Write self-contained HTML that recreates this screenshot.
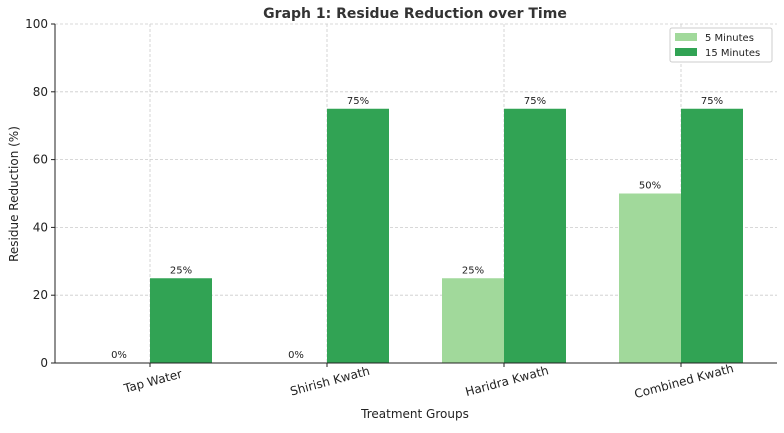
<!DOCTYPE html>
<html><head><meta charset="utf-8"><style>
body{margin:0;background:#fff;font-family:"Liberation Sans","DejaVu Sans",sans-serif}
</style></head><body>
<svg id="chart" width="784" height="428" xmlns="http://www.w3.org/2000/svg" font-family="DejaVu Sans, Liberation Sans, sans-serif">
<text x="415" y="18" text-anchor="middle" font-size="14" font-weight="bold" fill="#333">Graph 1: Residue Reduction over Time</text>
<g id="grid"></g><g id="bars"></g><g id="axes"></g>
<text x="415" y="418" text-anchor="middle" font-size="12" fill="#222">Treatment Groups</text>
<text transform="translate(18,194) rotate(-90)" text-anchor="middle" font-size="12" fill="#222">Residue Reduction (%)</text>
<g>
<rect x="670" y="28" width="102" height="34" fill="#fff" stroke="#ccc" rx="2"/>
<rect x="675" y="33" width="22" height="8" fill="#a1d99b"/>
<text x="705" y="41" font-size="10" fill="#222">5 Minutes</text>
<rect x="675" y="48" width="22" height="8" fill="#31a354"/>
<text x="705" y="56" font-size="10" fill="#222">15 Minutes</text>
</g>
</svg>
<script>
const categories=["Tap Water","Shirish Kwath","Haridra Kwath","Combined Kwath"];
const fiveMin=[0,0,25,50];
const fifteenMin=[25,75,75,75];
const yTicks=[0,20,40,60,80,100];
const NS="http://www.w3.org/2000/svg";
const L=55,R=777,T=24,B=363;
const y=v=>B-(B-T)*v/100;
const xc=i=>150+i*177;
const bw=62;
function mk(tag,attrs,parent,txt){const e=document.createElementNS(NS,tag);for(const k in attrs)e.setAttribute(k,attrs[k]);if(txt!==undefined)e.textContent=txt;document.getElementById(parent).appendChild(e);return e;}
yTicks.forEach(v=>{
 const g=mk('line',{x1:L,x2:R,y1:y(v),y2:y(v),stroke:'#ccc','stroke-dasharray':'3,2','stroke-width':0.8},'grid');
 
 
 const t=mk('line',{x1:L-4,x2:L,y1:y(v),y2:y(v),stroke:'#222'},'axes');
 
 
 const l=mk('text',{x:L-7,y:y(v)+4,'text-anchor':'end','font-size':12,fill:'#222'},'axes',v);
 
 
});
categories.forEach((c,i)=>{
 const g=mk('line',{x1:xc(i),x2:xc(i),y1:T,y2:B,stroke:'#ccc','stroke-dasharray':'3,2','stroke-width':0.8},'grid');
 
 
 [[fiveMin,'#a1d99b',-1,'5min'],[fifteenMin,'#31a354',0,'15min']].forEach(([arr,col,off,nm])=>{
  const v=arr[i],x0=xc(i)+off*bw;
  const b=mk('rect',{x:x0,y:y(v),width:bw,height:B-y(v),fill:col},'bars');
  
  
  const t=mk('text',{x:x0+bw/2,y:y(v)-5,'text-anchor':'middle','font-size':10,fill:'#222'},'bars',v+'%');
  
  
 });
 const tk=mk('line',{x1:xc(i),x2:xc(i),y1:B,y2:B+4,stroke:'#222'},'axes');
 
 
 const l=mk('text',{transform:`translate(${xc(i)+4},${B+22}) rotate(-15)`,'text-anchor':'middle','font-size':12,fill:'#222'},'axes',c);
 
 
});
const ax=mk('path',{d:`M${L},${T}V${B}H${R}`,fill:'none',stroke:'#222','stroke-width':1},'axes');


</script>
</body></html>
